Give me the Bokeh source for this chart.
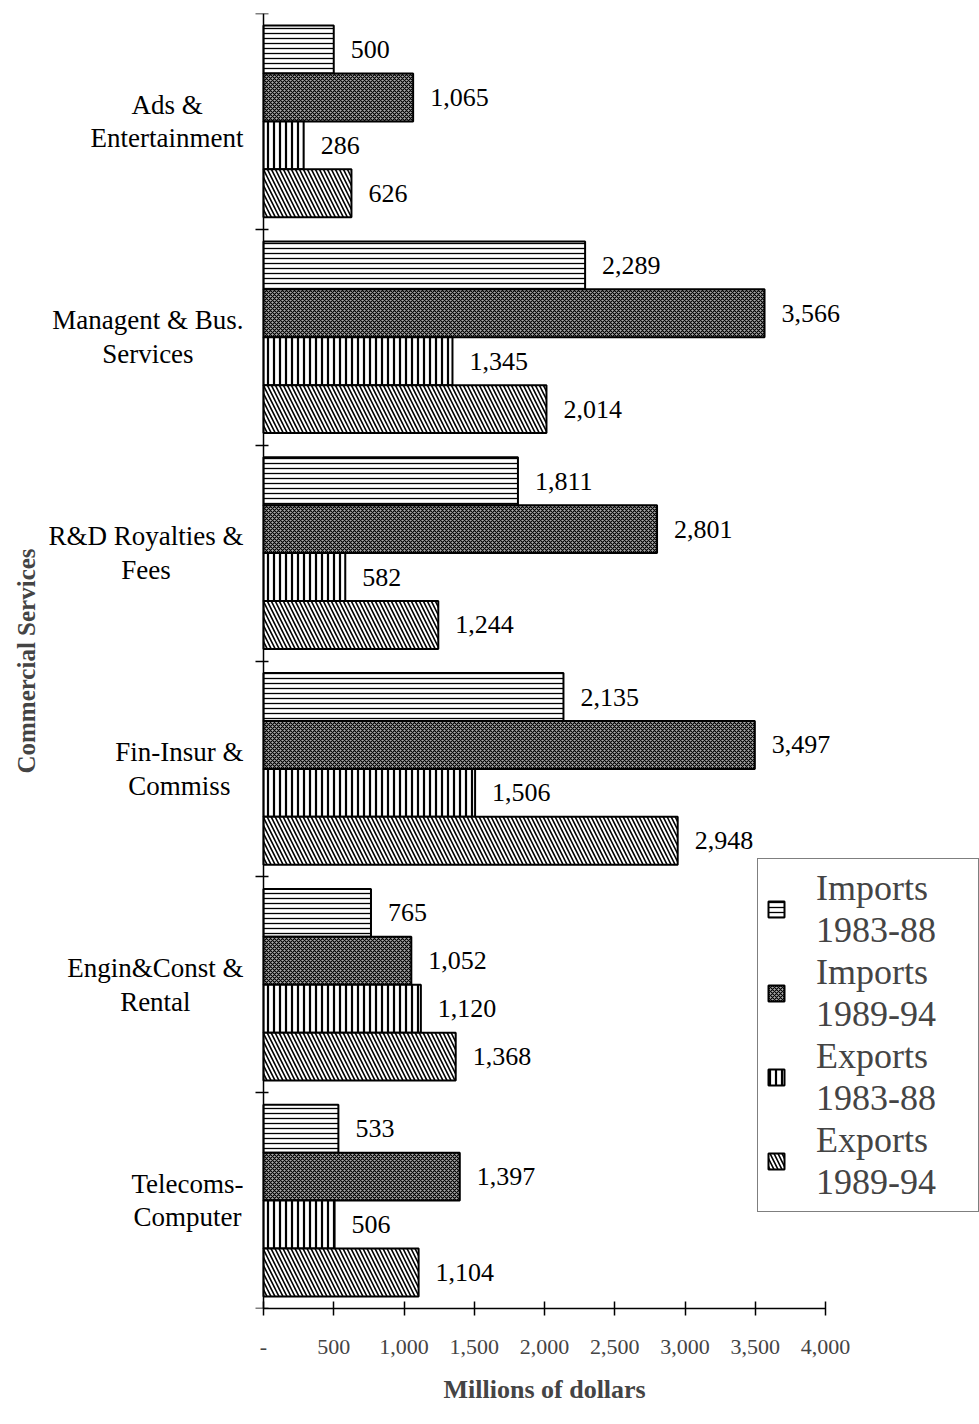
from bokeh.plotting import figure
from bokeh.models import (ColumnDataSource, FixedTicker, Legend, LegendItem, Range1d, Title)
from bokeh.core.properties import value
from bokeh.embed import file_html
from bokeh.resources import INLINE

# ---- data ----
categories = ["Ads &\nEntertainment", "Managent & Bus.\nServices", "R&D Royalties &\nFees",
              "Fin-Insur &\nCommiss", "Engin&Const &\nRental", "Telecoms-\nComputer"]
series_names = ["Imports\n1983-88", "Imports\n1989-94", "Exports\n1983-88", "Exports\n1989-94"]
imports_83_88 = [500, 2289, 1811, 2135, 765, 533]
imports_89_94 = [1065, 3566, 2801, 3497, 1052, 1397]
exports_83_88 = [286, 1345, 582, 1506, 1120, 506]
exports_89_94 = [626, 2014, 1244, 2948, 1368, 1104]
x_ticks = [0, 500, 1000, 1500, 2000, 2500, 3000, 3500, 4000]
x_tick_labels = ["-", "500", "1,000", "1,500", "2,000", "2,500", "3,000", "3,500", "4,000"]
series_values = [imports_83_88, imports_89_94, exports_83_88, exports_89_94]

FONT = "Liberation Serif"
n = len(categories)
centers = [n - 1 - i + 0.5 for i in range(n)]
bar_h = 0.222
offsets = [0.333, 0.111, -0.111, -0.333]

# ---- layout geometry (pixels) ----
W, H = 979, 1424
border_left, border_right, border_top, border_bottom = 48, 0, 13, 116
frame_w = W - border_left - border_right
axis_zero_px = 215          # distance from frame left to value 0
axis_span_px = 562          # pixels for 0..4000
scale = axis_span_px / 4000.0
x_start = -axis_zero_px / scale
x_end = x_start + frame_w / scale
cat_label_gap_px = 20       # gap between category label block and the axis

styles = [
    dict(fill_color="white", hatch_pattern="horizontal_line", hatch_scale=5, hatch_weight=1.3, hatch_color="black"),
    dict(fill_color="#a8a8a8", hatch_pattern="diagonal_cross", hatch_scale=4, hatch_weight=1.1, hatch_color="black"),
    dict(fill_color="white", hatch_pattern="vertical_line", hatch_scale=6, hatch_weight=2.2, hatch_color="black"),
    dict(fill_color="white", hatch_pattern="left_diagonal_line", hatch_scale=8, hatch_weight=1.6, hatch_color="black"),
]

p = figure(width=W, height=H, output_backend="svg", toolbar_location=None,
           x_range=Range1d(x_start, x_end), y_range=Range1d(0, n),
           min_border_left=border_left, min_border_right=border_right,
           min_border_top=border_top, min_border_bottom=border_bottom)
p.outline_line_color = None
p.grid.visible = False
p.background_fill_color = "white"

items = []
for k, vals in enumerate(series_values):
    ys = [c + offsets[k] for c in centers]
    src = ColumnDataSource(dict(y=ys, right=vals, label=[f"{v:,}" for v in vals]))
    r = p.hbar(y="y", right="right", left=0, height=bar_h, source=src,
               line_color="black", line_width=2, **styles[k])
    p.text(x="right", y="y", text="label", source=src, x_offset=17,
           text_align="left", text_baseline="middle", text_font=value(FONT),
           text_font_size="26px", text_color="black")
    items.append(LegendItem(label=series_names[k], renderers=[r]))

# category labels: block right-aligned next to the axis, lines centred in the block
cat_src = ColumnDataSource(dict(x=[0] * n, y=centers, text=categories))
p.text(x="x", y="y", text="text", source=cat_src, anchor="center_right", text_align="center",
       x_offset=-cat_label_gap_px, text_baseline="middle",
       text_font=value(FONT), text_font_size="27px", text_color="black", text_line_height=1.12)

# x axis
xa = p.xaxis[0]
xa.ticker = FixedTicker(ticks=x_ticks, minor_ticks=[])
xa.bounds = (0, 4000)
xa.major_label_overrides = {t: l for t, l in zip(x_ticks, x_tick_labels)}
xa.major_tick_in = 7
xa.major_tick_out = 7
xa.axis_line_width = 1.5
xa.major_tick_line_width = 1.5
xa.major_label_standoff = 24
xa.major_label_text_font = FONT
xa.major_label_text_font_size = "22px"

# x-axis title, centred under the 0..4000 axis span
p.add_layout(Title(text="Millions of dollars", align="left", offset=443 - border_left,
                   text_font=FONT, text_font_style="bold", text_font_size="26px",
                   standoff=33), "below")

# y axis (drawn at value 0)
ya = p.yaxis[0]
ya.fixed_location = 0
ya.ticker = FixedTicker(ticks=centers, minor_ticks=list(range(n + 1)))
ya.major_label_overrides = {c: "" for c in centers}
ya.major_label_text_font_size = "0px"
ya.major_label_standoff = 0
ya.major_tick_in = 0
ya.major_tick_out = 0
ya.minor_tick_in = 5
ya.minor_tick_out = 8
ya.minor_tick_line_width = 1.5
ya.axis_line_width = 1.5

p.add_layout(Title(text="Commercial Services", align="center", text_font=FONT,
                   text_font_style="bold", text_font_size="25px", standoff=17), "left")

legend = Legend(items=items, location=(757 - border_left, 96), label_text_font=FONT,
                label_text_font_size="36px", border_line_color="black", border_line_width=1,
                background_fill_alpha=1, glyph_width=20, glyph_height=20,
                label_standoff=30, label_width=154, spacing=0, padding=8, margin=0)
p.add_layout(legend, "center")

open("out.html", "w").write(file_html(p, INLINE))
